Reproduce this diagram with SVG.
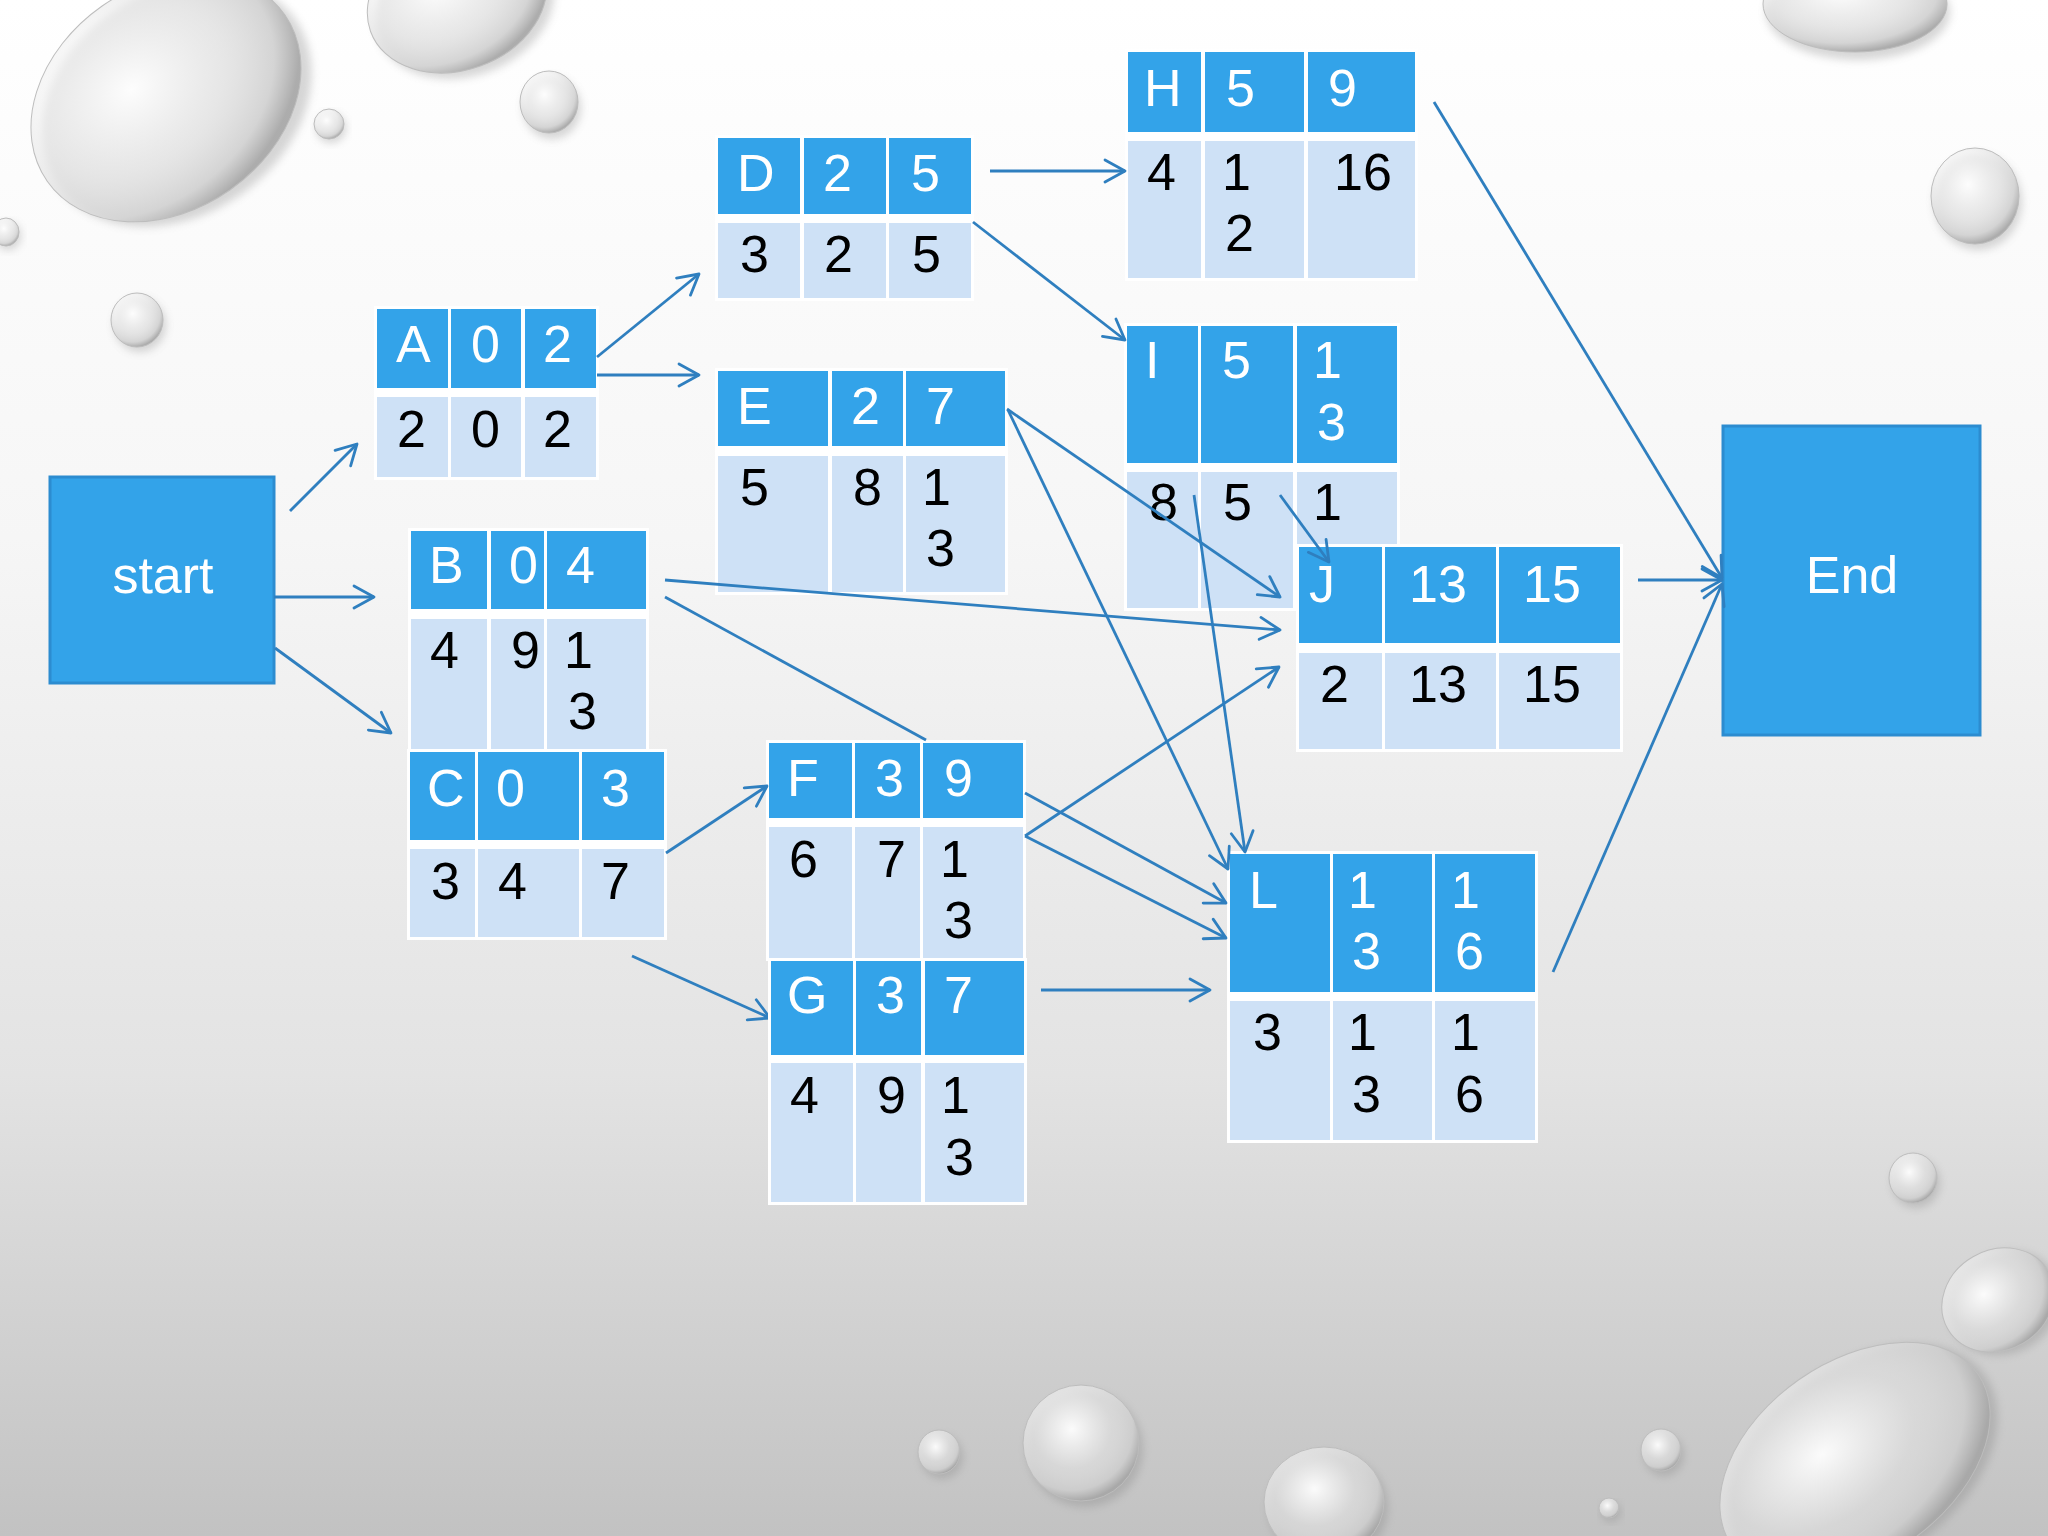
<svg xmlns="http://www.w3.org/2000/svg" width="2048" height="1536" viewBox="0 0 2048 1536">
<defs>
<linearGradient id="bg" x1="0" y1="0" x2="0" y2="1">
<stop offset="0" stop-color="#FFFFFF"/>
<stop offset="0.35" stop-color="#F6F6F6"/>
<stop offset="0.7" stop-color="#E3E3E3"/>
<stop offset="1" stop-color="#C2C2C2"/>
</linearGradient>
<radialGradient id="drop" cx="0.42" cy="0.38" r="0.62">
<stop offset="0" stop-color="#FFFFFF" stop-opacity="0.95"/>
<stop offset="0.55" stop-color="#F2F2F2" stop-opacity="0.6"/>
<stop offset="0.85" stop-color="#D4D4D4" stop-opacity="0.8"/>
<stop offset="1" stop-color="#A8A8A8" stop-opacity="0.9"/>
</radialGradient>
<filter id="blur" x="-20%" y="-20%" width="140%" height="140%"><feGaussianBlur stdDeviation="4"/></filter>
<marker id="arr" markerUnits="userSpaceOnUse" markerWidth="26" markerHeight="26" refX="22" refY="13" orient="auto" viewBox="0 0 26 26">
<path d="M2,2 L22,13 L2,24" fill="none" stroke="#2F7FBF" stroke-width="2.8" stroke-linecap="round" stroke-linejoin="round"/>
</marker>
<style>
.hd{fill:#33A3E9}
.bd{fill:#CEE1F6}
.frame{fill:#FFFFFF}
.ht{font-family:"Liberation Sans",Arial,sans-serif;font-size:52px;fill:#FFFFFF}
.bt{font-family:"Liberation Sans",Arial,sans-serif;font-size:52px;fill:#000000}
.box{fill:#33A3E9;stroke:#2C8CD0;stroke-width:3}
.bx{font-family:"Liberation Sans",Arial,sans-serif;font-size:52px;fill:#FFFFFF;text-anchor:middle}
.c{fill:none;stroke:#2F7FBF;stroke-width:2.8}
.a{marker-end:url(#arr)}
.sh{fill:#7A7A7A;opacity:0.3;filter:url(#blur)}
.dr{fill:url(#drop);stroke:#BDBDBD;stroke-width:1}
</style>
</defs>

<g id="background">
<rect x="0" y="0" width="2048" height="1536" fill="url(#bg)"/>
<g transform="rotate(-35 166 98)"><ellipse class="sh" cx="172" cy="108" rx="145" ry="112"/><ellipse class="dr" cx="166" cy="98" rx="145" ry="112"/></g>
<g transform="rotate(-20 457 0)"><ellipse class="sh" cx="462" cy="8" rx="92" ry="70"/><ellipse class="dr" cx="457" cy="0" rx="92" ry="70"/></g>
<ellipse class="sh" cx="552" cy="108" rx="29" ry="31"/><ellipse class="dr" cx="549" cy="102" rx="29" ry="31"/>
<ellipse class="sh" cx="331" cy="128" rx="15" ry="15"/><ellipse class="dr" cx="329" cy="124" rx="15" ry="15"/>
<ellipse class="sh" cx="140" cy="325" rx="26" ry="27"/><ellipse class="dr" cx="137" cy="320" rx="26" ry="27"/>
<ellipse class="sh" cx="8" cy="236" rx="13" ry="14"/><ellipse class="dr" cx="6" cy="232" rx="13" ry="14"/>
<ellipse class="sh" cx="1858" cy="12" rx="92" ry="48"/><ellipse class="dr" cx="1855" cy="4" rx="92" ry="48"/>
<ellipse class="sh" cx="1978" cy="202" rx="44" ry="48"/><ellipse class="dr" cx="1975" cy="196" rx="44" ry="48"/>
<ellipse class="sh" cx="1916" cy="1183" rx="24" ry="25"/><ellipse class="dr" cx="1913" cy="1178" rx="24" ry="25"/>
<g transform="rotate(-30 1998 1300)"><ellipse class="sh" cx="2002" cy="1306" rx="58" ry="50"/><ellipse class="dr" cx="1998" cy="1300" rx="58" ry="50"/></g>
<g transform="rotate(-35 1855 1460)"><ellipse class="sh" cx="1860" cy="1466" rx="150" ry="98"/><ellipse class="dr" cx="1855" cy="1460" rx="150" ry="98"/></g>
<ellipse class="sh" cx="1664" cy="1455" rx="20" ry="21"/><ellipse class="dr" cx="1661" cy="1450" rx="20" ry="21"/>
<ellipse class="sh" cx="1611" cy="1512" rx="10" ry="10"/><ellipse class="dr" cx="1609" cy="1508" rx="10" ry="10"/>
<ellipse class="sh" cx="1085" cy="1449" rx="58" ry="58"/><ellipse class="dr" cx="1081" cy="1443" rx="58" ry="58"/>
<ellipse class="sh" cx="942" cy="1457" rx="21" ry="22"/><ellipse class="dr" cx="939" cy="1452" rx="21" ry="22"/>
<ellipse class="sh" cx="1328" cy="1508" rx="60" ry="55"/><ellipse class="dr" cx="1324" cy="1502" rx="60" ry="55"/>
</g>

<g id="node-start">
<rect class="box" x="50" y="477" width="224" height="206"/>
<text class="bx" x="163" y="593">start</text>
</g>

<g id="node-end">
<rect class="box" x="1723" y="426" width="257" height="309"/>
<text class="bx" x="1852" y="593">End</text>
</g>

<g id="node-A">
<rect class="frame" x="374" y="306" width="225" height="174"/>
<rect class="hd" x="377" y="309" width="71" height="79"/><rect class="hd" x="451" y="309" width="70" height="79"/><rect class="hd" x="525" y="309" width="71" height="79"/>
<rect class="bd" x="377" y="397" width="71" height="80"/><rect class="bd" x="451" y="397" width="70" height="80"/><rect class="bd" x="525" y="397" width="71" height="80"/>
<text class="ht" x="396" y="362">A</text><text class="ht" x="471" y="362">0</text><text class="ht" x="543" y="362">2</text>
<text class="bt" x="397" y="447">2</text><text class="bt" x="471" y="447">0</text><text class="bt" x="543" y="447">2</text>
</g>

<g id="node-D">
<rect class="frame" x="715" y="135" width="259" height="166"/>
<rect class="hd" x="718" y="138" width="82" height="76"/><rect class="hd" x="804" y="138" width="82" height="76"/><rect class="hd" x="889" y="138" width="82" height="76"/>
<rect class="bd" x="718" y="223" width="82" height="75"/><rect class="bd" x="804" y="223" width="82" height="75"/><rect class="bd" x="889" y="223" width="82" height="75"/>
<text class="ht" x="737" y="191">D</text><text class="ht" x="823" y="191">2</text><text class="ht" x="911" y="191">5</text>
<text class="bt" x="740" y="272">3</text><text class="bt" x="824" y="272">2</text><text class="bt" x="912" y="272">5</text>
</g>

<g id="node-E">
<rect class="frame" x="715" y="368" width="293" height="227"/>
<rect class="hd" x="718" y="371" width="110" height="75"/><rect class="hd" x="832" y="371" width="71" height="75"/><rect class="hd" x="906" y="371" width="99" height="75"/>
<rect class="bd" x="718" y="456" width="110" height="136"/><rect class="bd" x="832" y="456" width="71" height="136"/><rect class="bd" x="906" y="456" width="99" height="136"/>
<text class="ht" x="737" y="424">E</text><text class="ht" x="851" y="424">2</text><text class="ht" x="926" y="424">7</text>
<text class="bt" x="740" y="505">5</text><text class="bt" x="853" y="505">8</text><text class="bt" x="922" y="505">1</text><text class="bt" x="926" y="566">3</text>
</g>

<g id="node-H">
<rect class="frame" x="1125" y="49" width="293" height="232"/>
<rect class="hd" x="1128" y="52" width="73" height="80"/><rect class="hd" x="1205" y="52" width="99" height="80"/><rect class="hd" x="1308" y="52" width="107" height="80"/>
<rect class="bd" x="1128" y="141" width="73" height="137"/><rect class="bd" x="1205" y="141" width="99" height="137"/><rect class="bd" x="1308" y="141" width="107" height="137"/>
<text class="ht" x="1144" y="106">H</text><text class="ht" x="1226" y="106">5</text><text class="ht" x="1328" y="106">9</text>
<text class="bt" x="1147" y="190">4</text><text class="bt" x="1222" y="190">1</text><text class="bt" x="1225" y="251">2</text><text class="bt" x="1334" y="190">16</text>
</g>

<g id="node-I">
<rect class="frame" x="1124" y="323" width="276" height="288"/>
<rect class="hd" x="1127" y="326" width="71" height="137"/><rect class="hd" x="1201" y="326" width="92" height="137"/><rect class="hd" x="1297" y="326" width="100" height="137"/>
<rect class="bd" x="1127" y="472" width="71" height="136"/><rect class="bd" x="1201" y="472" width="92" height="136"/><rect class="bd" x="1297" y="472" width="100" height="136"/>
<text class="ht" x="1145" y="378">I</text><text class="ht" x="1222" y="378">5</text><text class="ht" x="1313" y="378">1</text><text class="ht" x="1317" y="440">3</text>
<text class="bt" x="1149" y="520">8</text><text class="bt" x="1223" y="520">5</text><text class="bt" x="1313" y="520">1</text>
</g>

<g id="node-J">
<rect class="frame" x="1296" y="544" width="327" height="208"/>
<rect class="hd" x="1299" y="547" width="83" height="96"/><rect class="hd" x="1385" y="547" width="111" height="96"/><rect class="hd" x="1499" y="547" width="121" height="96"/>
<rect class="bd" x="1299" y="653" width="83" height="96"/><rect class="bd" x="1385" y="653" width="111" height="96"/><rect class="bd" x="1499" y="653" width="121" height="96"/>
<text class="ht" x="1309" y="602">J</text><text class="ht" x="1409" y="602">13</text><text class="ht" x="1523" y="602">15</text>
<text class="bt" x="1320" y="702">2</text><text class="bt" x="1409" y="702">13</text><text class="bt" x="1523" y="702">15</text>
</g>

<g id="node-B">
<rect class="frame" x="408" y="528" width="241" height="225"/>
<rect class="hd" x="411" y="531" width="76" height="78"/><rect class="hd" x="491" y="531" width="53" height="78"/><rect class="hd" x="547" y="531" width="99" height="78"/>
<rect class="bd" x="411" y="619" width="76" height="131"/><rect class="bd" x="491" y="619" width="53" height="131"/><rect class="bd" x="547" y="619" width="99" height="131"/>
<text class="ht" x="429" y="583">B</text><text class="ht" x="509" y="583">0</text><text class="ht" x="566" y="583">4</text>
<text class="bt" x="430" y="668">4</text><text class="bt" x="511" y="668">9</text><text class="bt" x="564" y="668">1</text><text class="bt" x="568" y="729">3</text>
</g>

<g id="node-C">
<rect class="frame" x="407" y="749" width="260" height="191"/>
<rect class="hd" x="410" y="752" width="65" height="88"/><rect class="hd" x="478" y="752" width="101" height="88"/><rect class="hd" x="582" y="752" width="82" height="88"/>
<rect class="bd" x="410" y="849" width="65" height="88"/><rect class="bd" x="478" y="849" width="101" height="88"/><rect class="bd" x="582" y="849" width="82" height="88"/>
<text class="ht" x="427" y="806">C</text><text class="ht" x="496" y="806">0</text><text class="ht" x="601" y="806">3</text>
<text class="bt" x="431" y="899">3</text><text class="bt" x="498" y="899">4</text><text class="bt" x="601" y="899">7</text>
</g>

<g id="node-F">
<rect class="frame" x="766" y="740" width="260" height="221"/>
<rect class="hd" x="769" y="743" width="83" height="75"/><rect class="hd" x="855" y="743" width="65" height="75"/><rect class="hd" x="923" y="743" width="100" height="75"/>
<rect class="bd" x="769" y="827" width="83" height="131"/><rect class="bd" x="855" y="827" width="65" height="131"/><rect class="bd" x="923" y="827" width="100" height="131"/>
<text class="ht" x="787" y="796">F</text><text class="ht" x="875" y="796">3</text><text class="ht" x="944" y="796">9</text>
<text class="bt" x="789" y="877">6</text><text class="bt" x="877" y="877">7</text><text class="bt" x="940" y="877">1</text><text class="bt" x="944" y="938">3</text>
</g>

<g id="node-L">
<rect class="frame" x="1227" y="851" width="311" height="292"/>
<rect class="hd" x="1230" y="854" width="100" height="138"/><rect class="hd" x="1333" y="854" width="99" height="138"/><rect class="hd" x="1435" y="854" width="100" height="138"/>
<rect class="bd" x="1230" y="1001" width="100" height="139"/><rect class="bd" x="1333" y="1001" width="99" height="139"/><rect class="bd" x="1435" y="1001" width="100" height="139"/>
<text class="ht" x="1249" y="908">L</text><text class="ht" x="1348" y="908">1</text><text class="ht" x="1352" y="969">3</text><text class="ht" x="1451" y="908">1</text><text class="ht" x="1455" y="969">6</text>
<text class="bt" x="1253" y="1050">3</text><text class="bt" x="1348" y="1050">1</text><text class="bt" x="1352" y="1112">3</text><text class="bt" x="1451" y="1050">1</text><text class="bt" x="1455" y="1112">6</text>
</g>

<g id="connectors">
<line class="c a" x1="290" y1="511" x2="357" y2="444"/>
<line class="c a" x1="274" y1="597" x2="374" y2="597"/>
<line class="c a" x1="275" y1="648" x2="391" y2="733"/>
<line class="c a" x1="597" y1="357" x2="699" y2="274"/>
<line class="c a" x1="597" y1="375" x2="699" y2="375"/>
<line class="c a" x1="990" y1="171" x2="1125" y2="171"/>
<line class="c a" x1="973" y1="222" x2="1125" y2="340"/>
<line class="c a" x1="665" y1="580" x2="1280" y2="630"/>
<line class="c" x1="665" y1="597" x2="926" y2="740"/>
<line class="c a" x1="1007" y1="409" x2="1280" y2="597"/>
<line class="c a" x1="1008" y1="410" x2="1228" y2="869"/>
<line class="c a" x1="1280" y1="495" x2="1329" y2="562"/>
<line class="c a" x1="1194" y1="495" x2="1245" y2="852"/>
<line class="c a" x1="666" y1="853" x2="767" y2="786"/>
<line class="c a" x1="1025" y1="793" x2="1226" y2="903"/>
<line class="c a" x1="1025" y1="836" x2="1226" y2="938"/>
<line class="c a" x1="1025" y1="836" x2="1279" y2="667"/>
<line class="c a" x1="1041" y1="990" x2="1210" y2="990"/>
<line class="c a" x1="1434" y1="102" x2="1722" y2="578"/>
<line class="c a" x1="1638" y1="580" x2="1722" y2="580"/>
<line class="c a" x1="1553" y1="972" x2="1722" y2="584"/>
<line class="c a" x1="632" y1="956" x2="770" y2="1018"/>
</g>

<g id="node-G">
<rect class="frame" x="768" y="958" width="259" height="247"/>
<rect class="hd" x="771" y="961" width="82" height="94"/><rect class="hd" x="856" y="961" width="65" height="94"/><rect class="hd" x="925" y="961" width="99" height="94"/>
<rect class="bd" x="771" y="1063" width="82" height="139"/><rect class="bd" x="856" y="1063" width="65" height="139"/><rect class="bd" x="925" y="1063" width="99" height="139"/>
<text class="ht" x="787" y="1013">G</text><text class="ht" x="876" y="1013">3</text><text class="ht" x="944" y="1013">7</text>
<text class="bt" x="790" y="1113">4</text><text class="bt" x="877" y="1113">9</text><text class="bt" x="941" y="1113">1</text><text class="bt" x="945" y="1175">3</text>
</g>
</svg>
